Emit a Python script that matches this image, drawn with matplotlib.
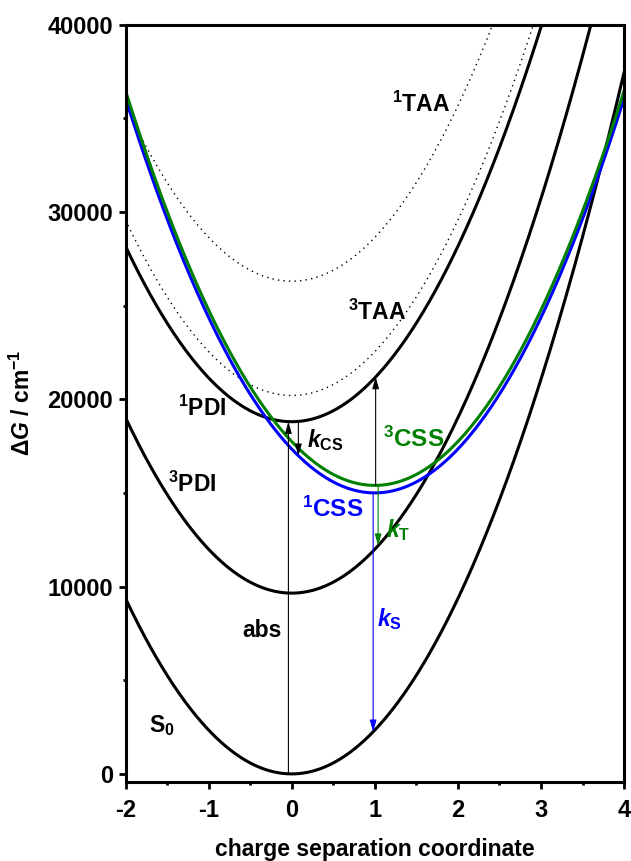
import numpy as np
import matplotlib.pyplot as plt

plt.rcParams['font.family'] = ['Liberation Sans', 'DejaVu Sans']
plt.rcParams['font.weight'] = 'bold'
plt.rcParams['axes.unicode_minus'] = False
plt.rcParams['mathtext.fontset'] = 'custom'
plt.rcParams['mathtext.rm'] = 'Liberation Sans:bold'
plt.rcParams['mathtext.bf'] = 'Liberation Sans:bold'
plt.rcParams['mathtext.it'] = 'Liberation Sans:bold:italic'

# harmonic surfaces: G = g0 + k (x - x0)^2
k = 2340.0
states = ["S0", "3PDI", "1PDI", "3TAA", "1TAA", "1CSS", "3CSS"]
g0 = [0, 9650, 18800, 20200, 26300, 15000, 15400]
x0 = [0, 0, 0, 0, 0, 1.0, 1.0]
colors = ["black", "black", "black", "black", "black", "blue", "green"]
styles = ["-", "-", "-", ":", ":", "-", "-"]

def surface(name, x):
    i = states.index(name)
    return g0[i] + k * (x - x0[i]) ** 2

# vertical transitions: (x, from state, to state, colour)
arrows = [
    (-0.04, "S0", "1PDI", "black"),
    (0.08, "1PDI", "1CSS", "black"),
    (1.01, "3CSS", "1PDI", "black"),
    (1.04, "3CSS", "3PDI", "green"),
    (0.98, "1CSS", "S0", "blue"),
]

labels = [
    (r"$^{1}$TAA", 1.556, 35750, "black", 16.5),
    (r"$^{3}$TAA", 1.03, 24650, "black", 16.5),
    (r"$^{1}$PDI", -1.08, 19530, "black", 16.5),
    (r"$^{3}$PDI", -1.20, 15475, "black", 16.5),
    (r"$k_{\rm CS}$", 0.406, 17800, "black", 16.5),
    (r"$^{3}$CSS", 1.47, 17880, "green", 17.5),
    (r"$^{1}$CSS", 0.49, 14140, "blue", 17.5),
    (r"$k_{\rm T}$", 1.285, 12990, "green", 16.5),
    (r"$k_{\rm S}$", 1.18, 8245, "blue", 16.5),
    ("abs", -0.36, 7630, "black", 16.5),
    (r"S$_{0}$", -1.56, 2590, "black", 16.5),
]

fig = plt.figure(figsize=(6.31, 8.61), dpi=100)
ax = fig.add_axes([0.199, 0.0918, 0.790, 0.8797])

x = np.linspace(-2, 4, 600)
for name, c, ls in zip(states, colors, styles):
    if ls == ":":
        ax.plot(x, surface(name, x), color=c, ls=(0, (1, 3)), lw=1.0)
    else:
        ax.plot(x, surface(name, x), color=c, ls=ls, lw=2.2)

for xa, s1, s2, c in arrows:
    ax.annotate("", xy=(xa, surface(s2, xa)), xytext=(xa, surface(s1, xa)),
                arrowprops=dict(arrowstyle="-|>,head_length=0.7,head_width=0.2",
                                color=c, lw=0.8, shrinkA=0, shrinkB=0,
                                mutation_scale=10))

for txt, xt, yt, c, fs in labels:
    ax.text(xt, yt, txt, color=c, fontsize=fs, ha="center", va="center")

ax.set_xlim(-2, 4)
ax.set_ylim(-430, 40000)
ax.set_xticks([-2, -1, 0, 1, 2, 3, 4])
ax.set_xticks(np.arange(-1.5, 4, 1), minor=True)
ax.set_yticks([0, 10000, 20000, 30000, 40000])
ax.set_yticks([5000, 15000, 25000, 35000], minor=True)
ax.tick_params(which="major", direction="out", length=5, width=2, labelsize=17)
ax.tick_params(which="minor", direction="out", length=2.5, width=2)
ax.tick_params(axis="x", pad=7)
ax.tick_params(axis="y", pad=4)
for sp in ax.spines.values():
    sp.set_linewidth(2.2)

ax.set_xlabel("charge separation coordinate", fontsize=16.5, fontweight="bold")
ax.xaxis.set_label_coords(0.5, -0.074)
ax.set_ylabel(r"$\Delta$$G$ / cm$^{-1}$", fontsize=16.5, fontweight="bold")
ax.yaxis.set_label_coords(-0.182, 0.5)

fig.savefig("out.png", dpi=100)
